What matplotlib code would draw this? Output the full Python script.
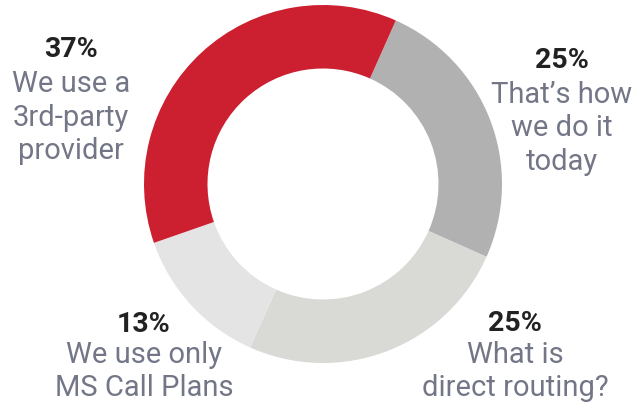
import matplotlib.pyplot as plt

plt.rcParams['font.family'] = ['Roboto', 'DejaVu Sans']

# slices, clockwise starting from the upper right
labels = ["That\u2019s how\nwe do it\ntoday", "What is\ndirect routing?",
          "We use only\nMS Call Plans", "We use a\n3rd-party\nprovider"]
values = [25, 25, 13, 37]
colors = ['#b1b1b1', '#d9dad6', '#e4e4e4', '#cc1f2f']

W, H = 639, 403
fig = plt.figure(figsize=(W / 100, H / 100), dpi=100)
ax = fig.add_axes([0, 0, 1, 1])

cx, cy, r_out, r_in = 323, H - 184, 179, 115.5
ax.pie(values, colors=colors, startangle=66, counterclock=False,
       center=(cx, cy), radius=r_out, frame=True,
       wedgeprops=dict(width=r_out - r_in, linewidth=0))
ax.set_xlim(0, W)
ax.set_ylim(0, H)
ax.set_aspect('equal')
ax.axis('off')

# label anchors in pixels: x center, baseline of percent, baseline of first line
spots = [(562, 68, 103), (515, 331, 363), (144, 332, 363), (71, 57, 92)]
line_gap = 33.5

for val, lab, (x, yp, yl) in zip(values, labels, spots):
    ax.text(x, H - yp, f"{val}%", ha='center', va='baseline', fontsize=20.5,
            fontweight='bold', color='#222222')
    for i, line in enumerate(lab.split('\n')):
        ax.text(x, H - yl - i * line_gap, line, ha='center', va='baseline',
                fontsize=21, color='#737687')

fig.savefig('out.png', dpi=100)
